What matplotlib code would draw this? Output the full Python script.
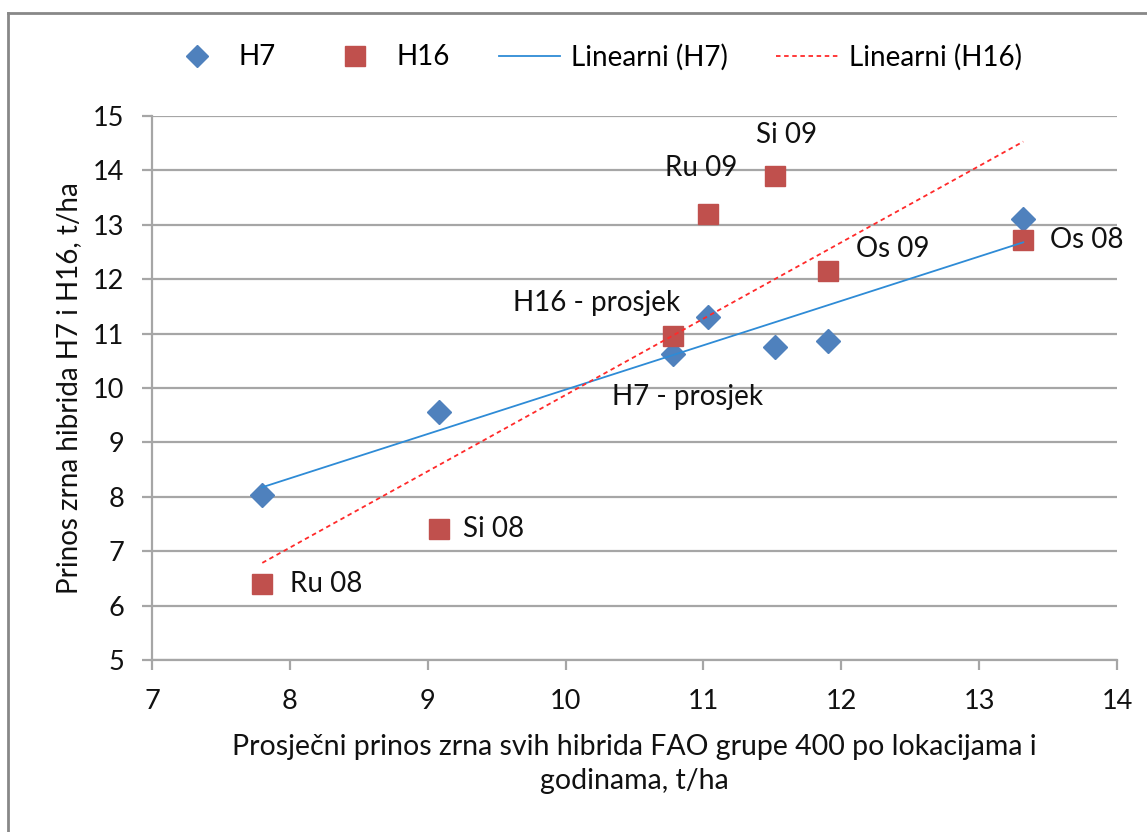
import numpy as np
import matplotlib
matplotlib.use("Agg")
import matplotlib.pyplot as plt
from matplotlib.lines import Line2D

plt.rcParams['font.family'] = ['Lato', 'DejaVu Sans']

# Data
x_avg = [7.80, 9.08, 10.78, 11.03, 11.52, 11.90, 13.32]
h7 = [8.03, 9.55, 10.62, 11.30, 10.75, 10.87, 13.10]
x_h16 = [7.80, 9.08, 10.78, 11.03, 11.52, 11.90, 13.32]
h16 = [6.40, 7.40, 10.95, 13.20, 13.90, 12.15, 12.72]
h16_labels = ["Ru 08", "Si 08", "H16 - prosjek", "Ru 09", "Si 09", "Os 09", "Os 08"]
h7_labels = ["", "", "H7 - prosjek", "", "", "", ""]

x_ticks = [7, 8, 9, 10, 11, 12, 13, 14]
y_ticks = [5, 6, 7, 8, 9, 10, 11, 12, 13, 14, 15]

W, H = 1147, 832
fig = plt.figure(figsize=(W / 100, H / 100), dpi=100)
ax = fig.add_axes([152 / W, 1 - 660 / H, (1117 - 152) / W, (660 - 116) / H])

txt_c = '#111111'
grid_c = '#a6a6a6'
ax.set_xlim(7, 14)
ax.set_ylim(5, 15)
ax.set_xticks(x_ticks)
ax.set_yticks(y_ticks)
ax.yaxis.grid(True, color=grid_c, linewidth=1.6)
ax.set_axisbelow(True)
for s in ['top', 'right']:
    ax.spines[s].set_visible(False)
for s in ['left', 'bottom']:
    ax.spines[s].set_color(grid_c)
    ax.spines[s].set_linewidth(1.6)
ax.tick_params(axis='both', direction='out', length=7, width=1.6, color=grid_c,
               labelsize=19.5, labelcolor=txt_c)
ax.tick_params(axis='x', pad=14)
ax.tick_params(axis='y', pad=13)

blue = '#4f81bd'
red = '#c0504d'

# Trend lines
xa = np.array(x_avg)
p7 = np.polyfit(xa, h7, 1)
p16 = np.polyfit(np.array(x_h16), h16, 1)
xs = np.array([xa.min(), xa.max()])
ax.plot(xs, np.polyval(p7, xs), color='#2e8bd6', linewidth=1.3, zorder=4)
ax.plot(xs, np.polyval(p16, xs), color='#ff2a2a', linewidth=1.3, linestyle=(0, (2.5, 2)), zorder=4)

ax.plot(x_avg, h7, linestyle='none', marker='D', markersize=12, color=blue, zorder=3)
ax.plot(x_h16, h16, linestyle='none', marker='s', markersize=15, color=red, zorder=3)

# labels (offsets in pixels)
offs16 = {"Ru 08": (64, 0), "Si 08": (55, 0), "H16 - prosjek": (-76, 33), "Ru 09": (-6, 46),
          "Si 09": (11, 41), "Os 09": (65, 22), "Os 08": (63, 0)}
offs7 = {"H7 - prosjek": (14, -43)}
for xv, yv, lab in zip(x_h16, h16, h16_labels):
    if lab:
        dx, dy = offs16[lab]
        ax.annotate(lab, (xv, yv), xytext=(dx * 0.72, dy * 0.72), textcoords='offset points',
                    ha='center', va='center', fontsize=20, color=txt_c, zorder=5)
for xv, yv, lab in zip(x_avg, h7, h7_labels):
    if lab:
        dx, dy = offs7[lab]
        ax.annotate(lab, (xv, yv), xytext=(dx * 0.72, dy * 0.72), textcoords='offset points',
                    ha='center', va='center', fontsize=20, color=txt_c, zorder=5)

ax.set_ylabel("Prinos zrna hibrida H7 i H16, t/ha", fontsize=20, color=txt_c, labelpad=8)
ax.set_xlabel("Prosječni prinos zrna svih hibrida FAO grupe 400 po lokacijama i\ngodinama, t/ha",
              fontsize=20.5, color=txt_c, labelpad=14, linespacing=1.4)

handles = [
    Line2D([], [], linestyle='none', marker='D', markersize=11, color=blue),
    Line2D([], [], linestyle='none', marker='s', markersize=14, color=red),
    Line2D([], [], color='#2e8bd6', linewidth=1.3),
    Line2D([], [], color='#ff2a2a', linewidth=1.3, linestyle=(0, (2.5, 2))),
]
fig.legend(handles, ["H7", "H16", "Linearni (H7)", "Linearni (H16)"], loc='center',
           bbox_to_anchor=(594 / W, 1 - 57 / H), ncol=4, frameon=False, fontsize=20,
           handlelength=2.2, columnspacing=1.75, handletextpad=0.4)

# chart border
fig.add_artist(Line2D([8 / W, 1], [1 - 13 / H, 1 - 13 / H], transform=fig.transFigure,
                      color='#888888', linewidth=2))
fig.add_artist(Line2D([8 / W, 8 / W], [0, 1 - 13 / H], transform=fig.transFigure,
                      color='#888888', linewidth=2))

fig.savefig("out.png", dpi=100)
